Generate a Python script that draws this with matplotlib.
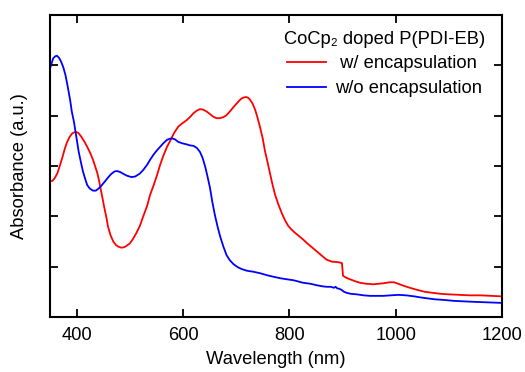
import matplotlib
matplotlib.use("Agg")
import matplotlib.pyplot as plt

plt.rcParams['font.family'] = ['Liberation Sans', 'DejaVu Sans']
plt.rcParams['font.size'] = 13.2

# Red: with encapsulation
wl_red = [350, 355, 359, 364, 368, 373, 378, 382, 387, 392, 398, 403, 409, 415, 420, 426, 431,
          435, 439, 442, 445, 448, 452, 456, 459, 464, 469, 474, 478, 483, 487, 492, 500, 506,
          512, 519, 525, 533, 538, 545, 551, 557, 563, 570, 576, 583, 591, 599, 607, 613, 620,
          626, 632, 638, 645, 651, 657, 663, 669, 676, 682, 688, 695, 700, 706, 710, 714, 718,
          722, 726, 731, 736, 740, 745, 750, 754, 759, 764, 768, 773, 779, 786, 792, 798, 804,
          811, 818, 826, 833, 842, 852, 861, 870, 880, 892, 899, 901, 907, 914, 924, 933, 945,
          958, 968, 977, 989, 997, 1005, 1015, 1027, 1040, 1055, 1070, 1085, 1100, 1120, 1140,
          1160, 1180, 1200]
abs_red = [2.69, 2.71, 2.76, 2.86, 2.99, 3.16, 3.35, 3.47, 3.58, 3.65, 3.68, 3.66, 3.58, 3.48,
           3.38, 3.25, 3.12, 2.99, 2.86, 2.72, 2.56, 2.40, 2.18, 1.98, 1.80, 1.62, 1.50, 1.43,
           1.40, 1.38, 1.38, 1.40, 1.46, 1.55, 1.66, 1.81, 1.99, 2.22, 2.42, 2.62, 2.81, 3.02,
           3.20, 3.38, 3.50, 3.65, 3.78, 3.85, 3.91, 3.97, 4.05, 4.10, 4.13, 4.12, 4.08, 4.03,
           3.98, 3.95, 3.95, 3.97, 4.01, 4.08, 4.17, 4.23, 4.30, 4.34, 4.36, 4.37, 4.36, 4.32,
           4.24, 4.11, 3.97, 3.77, 3.55, 3.31, 3.08, 2.84, 2.65, 2.44, 2.25, 2.06, 1.92, 1.81,
           1.74, 1.67, 1.61, 1.54, 1.47, 1.39, 1.30, 1.22, 1.14, 1.10, 1.09, 1.07, 0.82, 0.78,
           0.75, 0.71, 0.68, 0.66, 0.65, 0.66, 0.67, 0.69, 0.69, 0.66, 0.62, 0.58, 0.54, 0.50,
           0.48, 0.46, 0.45, 0.44, 0.43, 0.43, 0.42, 0.41]

# Blue: without encapsulation
wl_blue = [350, 353, 356, 360, 363, 367, 371, 375, 379, 382, 385, 388, 391, 395, 398, 401, 404,
           408, 412, 416, 420, 425, 431, 436, 440, 446, 453, 459, 465, 471, 476, 482, 487, 494,
           503, 510, 519, 526, 533, 538, 545, 551, 557, 563, 570, 575, 579, 585, 591, 599, 607,
           613, 620, 626, 632, 637, 642, 646, 651, 655, 660, 665, 670, 676, 682, 688, 695, 703,
           711, 720, 732, 745, 758, 770, 783, 795, 808, 826, 840, 852, 862, 870, 878, 884, 887,
           890, 894, 898, 903, 908, 916, 927, 940, 952, 965, 977, 990, 1005, 1020, 1035, 1046,
           1060, 1075, 1090, 1110, 1130, 1150, 1175, 1200]
abs_blue = [4.94, 5.04, 5.14, 5.18, 5.19, 5.15, 5.07, 4.96, 4.81, 4.65, 4.48, 4.30, 4.08, 3.88,
            3.68, 3.48, 3.28, 3.08, 2.89, 2.75, 2.62, 2.55, 2.51, 2.51, 2.54, 2.60, 2.69, 2.77,
            2.84, 2.89, 2.90, 2.88, 2.85, 2.81, 2.78, 2.79, 2.85, 2.93, 3.03, 3.12, 3.23, 3.31,
            3.38, 3.45, 3.52, 3.54, 3.55, 3.53, 3.48, 3.45, 3.43, 3.41, 3.40, 3.36, 3.28, 3.16,
            2.98, 2.80, 2.56, 2.30, 2.03, 1.80, 1.60, 1.40, 1.23, 1.13, 1.05, 0.99, 0.95, 0.92,
            0.90, 0.87, 0.83, 0.80, 0.77, 0.75, 0.73, 0.68, 0.66, 0.63, 0.61, 0.60, 0.60, 0.58,
            0.60, 0.57, 0.56, 0.54, 0.50, 0.48, 0.46, 0.45, 0.43, 0.42, 0.42, 0.42, 0.43, 0.44,
            0.43, 0.41, 0.39, 0.37, 0.35, 0.34, 0.32, 0.31, 0.30, 0.29, 0.28]

x_ticks = [400, 600, 800, 1000, 1200]
y_ticks = [1, 2, 3, 4, 5]

fig = plt.figure(figsize=(5.25, 3.72), dpi=100)
ax = fig.add_axes([50/525, 1 - 317/372, 452/525, 302/372])

ax.plot(wl_red, abs_red, color='#ff0000', lw=1.3, label=' w/ encapsulation')
ax.plot(wl_blue, abs_blue, color='#0000ff', lw=1.3, label='w/o encapsulation')

ax.set_xlim(350, 1200)
ax.set_ylim(0, 6)
ax.set_xticks(x_ticks)
ax.set_yticks(y_ticks)
ax.set_yticklabels([])
ax.tick_params(direction='in', length=6, width=1.3, top=True, right=True, labeltop=False,
               labelright=False, labelleft=False, pad=7)
for s in ax.spines.values():
    s.set_linewidth(1.5)

ax.set_xlabel('Wavelength (nm)', labelpad=5)
ax.set_ylabel('Absorbance (a.u.)', labelpad=16)

leg = ax.legend(title='CoCp\u2082 doped P(PDI-EB)', frameon=False, loc='upper right',
                bbox_to_anchor=((488 - 50) / 452, (317 - 28) / 302), fontsize=13.2,
                title_fontsize=13.2, handlelength=2.13, handletextpad=0.5,
                labelspacing=0.42, borderaxespad=0, borderpad=0.15)

fig.savefig('out.png', dpi=100)
